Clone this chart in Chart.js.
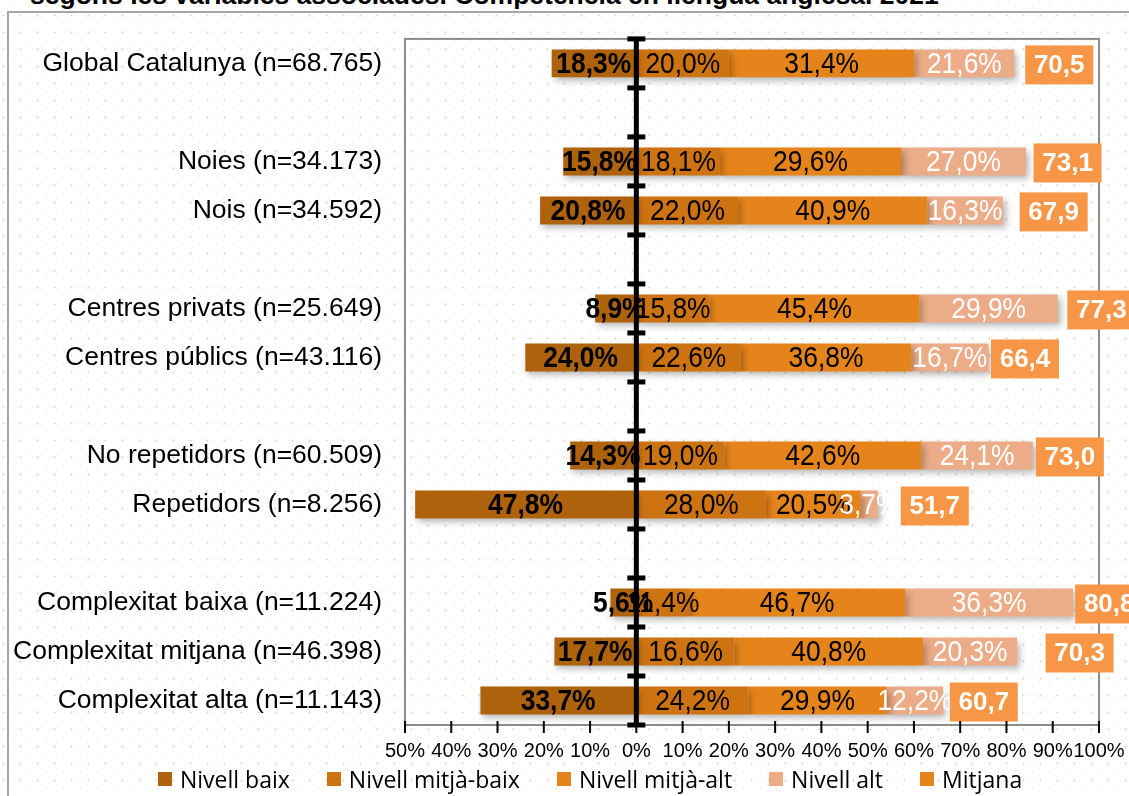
<!DOCTYPE html>
<html><head><meta charset="utf-8">
<script src="https://cdn.jsdelivr.net/npm/chart.js@4/dist/chart.umd.min.js"></script>
<style>
html,body{margin:0;padding:0;}
body{width:1129px;height:796px;position:relative;overflow:hidden;background-color:#fff;
 background-image: radial-gradient(circle, #e6e3cd 1.1px, transparent 1.4px), radial-gradient(circle, #eeecdf 0.8px, transparent 1.1px);
 background-size:17px 17px, 17px 17px; background-position: -5px 7px, 4px -2px;}
#title{position:absolute;left:30px;top:-18px;font:bold 26.5px 'Liberation Sans',Arial,sans-serif;line-height:26.5px;white-space:nowrap;color:#000;}
#frame{position:absolute;left:7px;top:11px;width:1200px;height:900px;border-left:2px solid #a6a6a6;border-top:2px solid #a6a6a6;}
#wrap{position:absolute;left:0;top:0;width:1129px;height:796px;}
#legend{position:absolute;left:158px;top:763px;display:flex;gap:37px;font:23px 'Open Sans',sans-serif;color:#000;white-space:nowrap;}
#legend .it{display:flex;align-items:center;}
#legend .sw{width:14px;height:14px;margin-right:8px;}
</style></head>
<body>
<div id="title">segons les variables associades. Competència en llengua anglesa. 2021</div>
<div id="frame"></div>
<div id="wrap"><canvas id="c" width="1129" height="796"></canvas></div>
<div id="legend"></div>
<script>
const categories = ['Global Catalunya (n=68.765)','', 'Noies (n=34.173)','Nois (n=34.592)','', 'Centres privats (n=25.649)','Centres públics (n=43.116)','', 'No repetidors (n=60.509)','Repetidors (n=8.256)','', 'Complexitat baixa (n=11.224)','Complexitat mitjana (n=46.398)','Complexitat alta (n=11.143)'];
const seriesNames = ['Nivell baix','Nivell mitjà-baix','Nivell mitjà-alt','Nivell alt','Mitjana'];
// bar lengths as drawn (percent of pupils)
const nivellBaix      = [18.3,null,15.8,20.8,null,8.9,24.0,null,14.3,47.8,null,5.6,17.7,33.7];
const nivellMitjaBaix = [20.0,null,18.1,22.0,null,15.8,22.6,null,19.0,28.0,null,11.4,21.2,24.2];
const nivellMitjaAlt  = [40.1,null,39.1,40.9,null,45.4,36.8,null,42.6,20.5,null,46.7,40.8,29.9];
const nivellAlt       = [21.6,null,27.0,16.3,null,29.9,16.7,null,24.1,3.7,null,36.3,20.3,12.2];
// printed data labels
const lblBaix      = [18.3,null,15.8,20.8,null,8.9,24.0,null,14.3,47.8,null,5.6,17.7,33.7];
const lblMitjaBaix = [20.0,null,18.1,22.0,null,15.8,22.6,null,19.0,28.0,null,11.4,16.6,24.2];
const lblMitjaAlt  = [31.4,null,29.6,40.9,null,45.4,36.8,null,42.6,20.5,null,46.7,40.8,29.9];
const lblAlt       = [21.6,null,27.0,16.3,null,29.9,16.7,null,24.1,3.7,null,36.3,20.3,12.2];
// mean score and where its label sits on the axis
const mitjana   = [70.5,null,73.1,67.9,null,77.3,66.4,null,73.0,51.7,null,80.8,70.3,60.7];
const mitjanaAt = [91.4,null,93.2,90.2,null,100.5,84.0,null,93.7,64.5,null,102.2,95.8,75.1];
const xTicks = [-50,-40,-30,-20,-10,0,10,20,30,40,50,60,70,80,90,100];

const colors = ['#AF620C','#CE7312','#E5841A','#EBAC87','#F79646'];
const legendColors = ['#AF620C','#CE7312','#E5841A','#EBAC87','#E5841A'];
const lblColors = ['#000','#000','#000','#fff'];
const lblBold = [true,false,false,false];
const lblArrays = [lblBaix,lblMitjaBaix,lblMitjaAlt,lblAlt];
const fmt = v => v.toFixed(1).replace('.',',');

const FONT = "'Liberation Sans',Arial,sans-serif";

const shadowPlugin = {
  id:'shadow',
  beforeDatasetDraw(chart){ const c=chart.ctx; c.save(); c.shadowColor='rgba(0,0,0,0.3)'; c.shadowBlur=7; c.shadowOffsetX=3; c.shadowOffsetY=4; },
  afterDatasetDraw(chart){ chart.ctx.restore(); }
};
const framePlugin = {
  id:'frame',
  beforeDatasetsDraw(chart){
    const {ctx, chartArea:a} = chart;
    ctx.save(); ctx.strokeStyle='#8c8c8c'; ctx.lineWidth=2;
    ctx.strokeRect(a.left, a.top, a.right-a.left, a.bottom-a.top);
    ctx.restore();
  }
};
const labelPlugin = {
  id:'labels',
  afterDatasetsDraw(chart){
    const ctx = chart.ctx;
    ctx.save();
    ctx.textAlign='center'; ctx.textBaseline='middle';
    for(let d=0; d<4; d++){
      const meta = chart.getDatasetMeta(d);
      meta.data.forEach((el,i)=>{
        const v = lblArrays[d][i]; if(v==null) return;
        const cx = (el.x + el.base)/2;
        ctx.save();
        ctx.translate(cx, el.y+1.5);
        ctx.scale(0.88,1);
        ctx.font = (lblBold[d]?'bold ':'') + '30px ' + FONT;
        ctx.fillStyle = lblColors[d];
        ctx.fillText(fmt(v)+'%', 0, 0);
        ctx.restore();
      });
    }
    // mean boxes
    const xs = chart.scales.x, ys = chart.scales.y;
    mitjana.forEach((m,i)=>{
      if(m==null) return;
      const cx = xs.getPixelForValue(mitjanaAt[i]);
      const cy = ys.getPixelForValue(i)+1.5;
      ctx.fillStyle = colors[4];
      ctx.fillRect(cx-34, cy-19.5, 68, 39);
      ctx.fillStyle='#fff';
      ctx.font = "bold 26px " + FONT;
      ctx.fillText(fmt(m), cx, cy+1);
    });
    // zero axis with category separators
    const x0 = xs.getPixelForValue(0);
    const a = chart.chartArea;
    ctx.fillStyle='#000';
    ctx.fillRect(x0-2.5, a.top-1, 5, a.bottom-a.top+3);
    const n = categories.length, step=(a.bottom-a.top)/n;
    for(let k=0;k<=n;k++){
      const y = a.top + k*step;
      ctx.fillRect(x0-9, y-2.5, 18, 5);
    }
    // x ticks crossing the bottom axis
    ctx.strokeStyle='#000'; ctx.lineWidth=2;
    xTicks.forEach(t=>{
      const x = xs.getPixelForValue(t);
      ctx.beginPath(); ctx.moveTo(x, a.bottom-4); ctx.lineTo(x, a.bottom+8); ctx.stroke();
    });
    ctx.restore();
  }
};

const datasets = [nivellBaix.map(v=>v==null?null:-v), nivellMitjaBaix, nivellMitjaAlt, nivellAlt].map((arr,k)=>({
  label: seriesNames[k], data: arr, backgroundColor: colors[k], borderWidth:0,
  barPercentage:0.57, categoryPercentage:1, stack:'s'
}));

new Chart(document.getElementById('c'), {
  type:'bar',
  data:{ labels: categories, datasets },
  options:{
    indexAxis:'y', responsive:false, animation:false,
    layout:{ padding:{ top:34.5, right:30, bottom:0, left:0 } },
    plugins:{ legend:{display:false}, tooltip:{enabled:false}, title:{display:false} },
    scales:{
      x:{ type:'linear', min:-50, max:100, stacked:true,
          afterBuildTicks(s){ s.ticks = xTicks.map(v=>({value:v})); },
          grid:{ display:true, drawOnChartArea:false, drawTicks:true, tickLength:12, color:'rgba(0,0,0,0)' },
          border:{ display:true, color:'#000', width:2 },
          ticks:{ padding:2, color:'#000', font:{ family:FONT, size:20 },
                  callback:v=>Math.abs(v)+'%', autoSkip:false, maxRotation:0 },
          afterFit(s){ s.height = 71; } },
      y:{ type:'category', stacked:true,
          grid:{ display:false, drawTicks:false }, border:{ display:false },
          ticks:{ padding:23, color:'#000', font:{ family:FONT, size:26.5 }, autoSkip:false },
          afterFit(s){ s.width = 405; } }
    }
  },
  plugins:[framePlugin, shadowPlugin, labelPlugin]
});

const lg = document.getElementById('legend');
seriesNames.forEach((n,k)=>{
  const it=document.createElement('div'); it.className='it';
  const sw=document.createElement('div'); sw.className='sw'; sw.style.background=legendColors[k];
  const tx=document.createElement('span'); tx.textContent=n;
  it.appendChild(sw); it.appendChild(tx); lg.appendChild(it);
});
</script>
</body></html>
